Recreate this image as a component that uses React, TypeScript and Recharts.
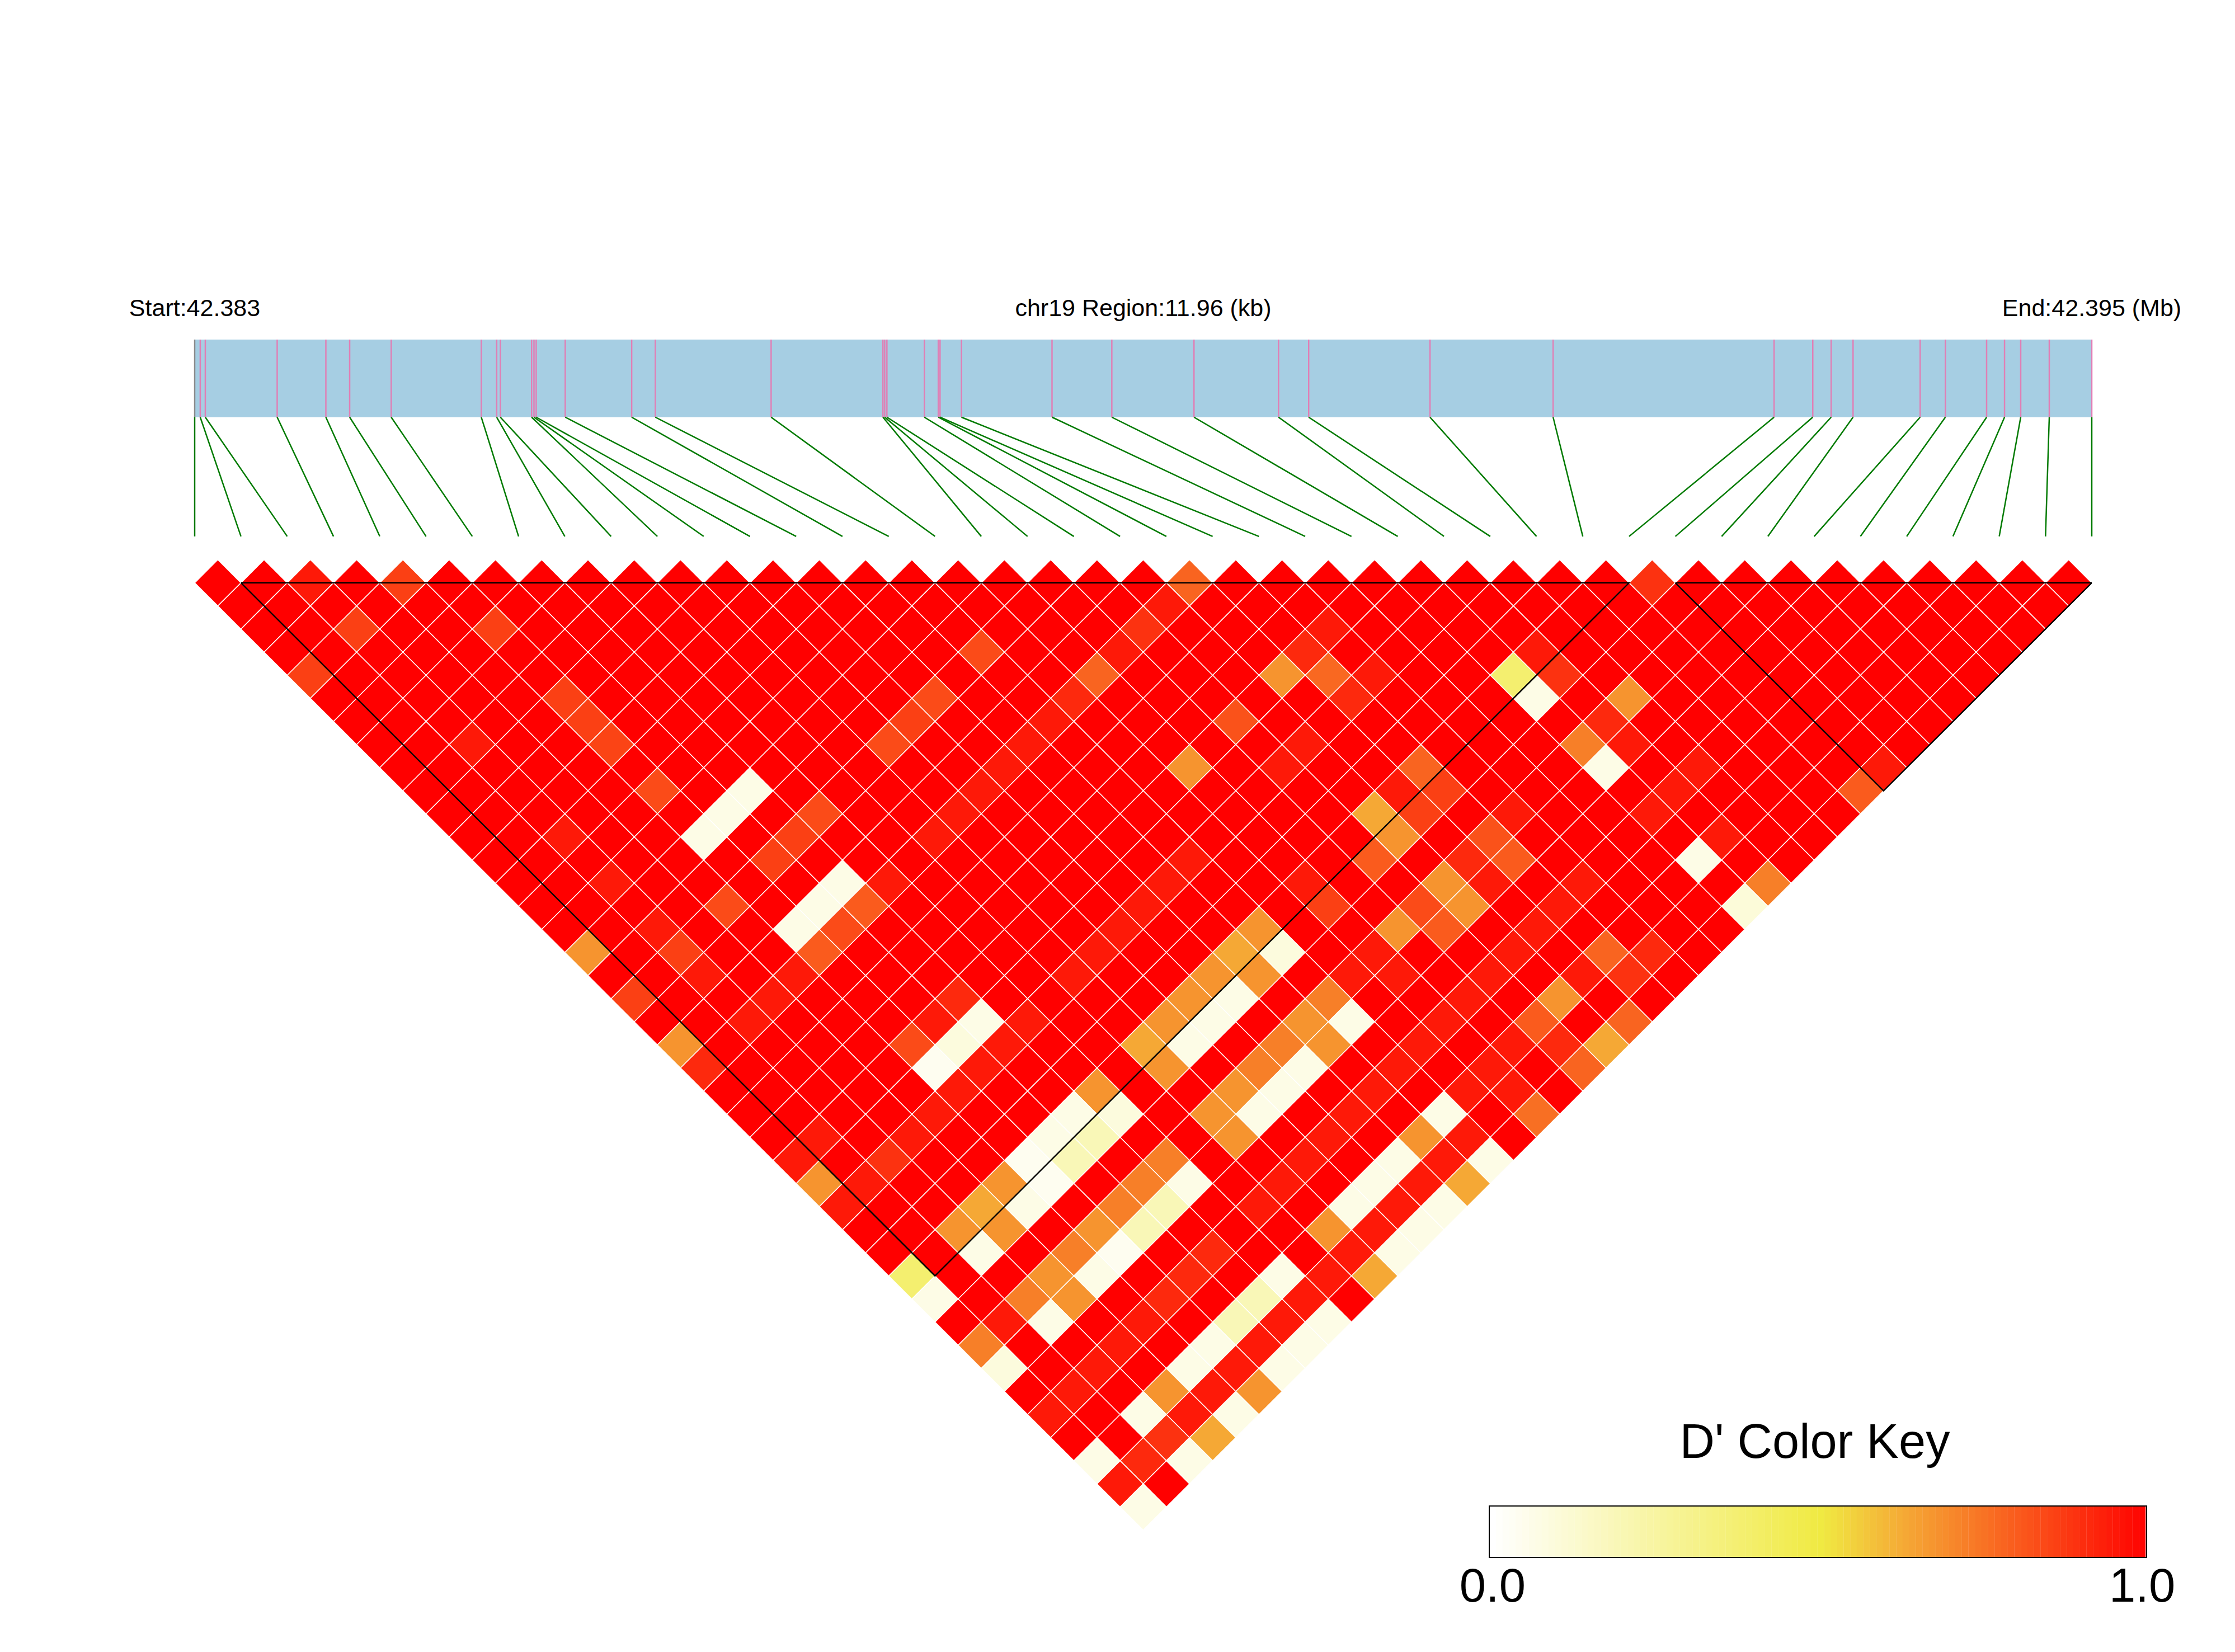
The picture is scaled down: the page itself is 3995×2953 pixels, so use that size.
import {
  Bar,
  BarChart,
  Cell,
  ComposedChart,
  ReferenceArea,
  ReferenceLine,
  Scatter,
  XAxis,
  YAxis,
} from "recharts";

const FONT = "Liberation Sans, Arial, sans-serif";
const REGION_KB = 11.96;
const SNP_GAPS = 41;

// SNP positions along the region, kb from the start
const snpKb = [
  0, 0.035, 0.067, 0.52, 0.827, 0.977, 1.239, 1.807, 1.904, 1.927, 2.124, 2.139, 2.153, 2.336,
  2.755, 2.904, 3.634, 4.339, 4.35, 4.364, 4.6, 4.688, 4.699, 4.834, 5.405, 5.782, 6.3, 6.833,
  7.023, 7.788, 8.564, 9.957, 10.201, 10.317, 10.455, 10.878, 11.037, 11.297, 11.41, 11.512,
  11.692, 11.96,
];

const regionTicks = [0, 5.98, 11.96];
const regionLabels = ["Start:42.383", "chr19 Region:11.96 (kb)", "End:42.395 (Mb)"];

// D' by distance: dPrimeRows[r][c] is the pair SNP c and SNP c + r + 1
const dPrimeRows = [
  [1,1,.945,1,.86,1,1,1,1,1, 1,1,1,1,1,1,1,1,1,1, 1,.78,1,1,1,1,1,1,1,1, 1,.89,1,1,1,1,1,1,1,1, 1],
  [1,1,1,1,1,1,1,1,1,1, 1,1,1,1,1,1,1,1,1,1, .945,1,1,1,1,1,1,1,1,1, 1,1,1,1,1,1,1,1,1,1],
  [1,1,.86,1,1,.86,1,1,1,1, 1,1,1,1,1,1,1,1,1,.89, 1,1,1,.945,1,1,1,1,1,1, 1,1,1,1,1,1,1,1,1],
  [1,1,1,1,1,1,1,1,1,1, 1,1,1,1,1,.835,1,1,.945,1, 1,1,.91,1,1,1,1,.945,1,1, 1,1,1,1,1,1,1,1],
  [.86,1,1,1,1,1,1,1,1,1, 1,1,1,1,1,1,1,.78,1,1, 1,.675,.77,.945,1,1,.38,.89,1,1, 1,1,1,1,1,1,1],
  [1,1,1,1,1,.86,1,1,1,1, 1,1,1,.835,1,1,.91,1,1,1, 1,1,.91,1,1,1,.066,1,.675,1, 1,1,1,1,1,1],
  [1,1,1,1,1,.86,1,1,1,1, 1,1,.86,1,1,.945,1,1,1,.82, 1,1,1,1,1,1,1,.91,1,1, 1,1,1,1,1],
  [1,1,.945,1,1,.85,1,1,1,1, 1,.835,1,1,.945,1,1,1,1,1, .945,1,1,1,1,1,.72,.945,1,1, 1,1,1,1],
  [1,1,1,1,1,1,1,1,1,1, 1,1,1,.945,1,1,1,.675,1,.945, 1,1,.78,1,1,1,.066,1,.945,1, 1,1,.945],
  [1,1,1,1,1,.835,1,.066,1,1, 1,1,.945,1,1,1,1,1,1,1, 1,.945,.86,1,1,1,1,.945,1,1, 1,.8],
  [1,1,1,1,1,1,.066,1,.835,1, 1,.945,1,1,1,1,1,1,1,1, .63,.86,1,.945,1,1,.945,1,1,1, 1],
  [1,1,.945,1,1,.066,1,.86,1,1, .945,1,1,1,1,1,1,1,1,1, .675,1,.82,1,1,1,1,.945,1,1],
  [1,1,1,1,1,1,.86,1,1,1, 1,1,1,1,1,.945,1,1,1,.8, 1,.91,.8,1,1,1,.066,1,1],
  [1,1,.945,1,1,1,1,.066,.945,1, 1,1,1,1,.945,1,1,.945,1,1, .675,.945,1,.945,1,1,1,.72],
  [1,1,1,1,.835,1,.066,.8,1,1, 1,1,1,.945,1,1,1,.86,1,.835, .675,1,.945,1,1,1,.1],
  [1,1,.945,1,1,.066,.835,1,1,1, 1,1,.945,1,1,.675,1,1,.675,.8, 1,.945,1,1,1,1],
  [.675,1,.86,1,1,.8,1,1,1,1, 1,.945,1,1,.63,.09,1,.945,1,1, .945,1,.78,.91,1],
  [1,1,.945,1,.945,1,1,1,1,1, .945,1,1,.675,.675,1,.945,.945,1,.945, 1,.945,.89,1],
  [.86,1,1,.945,1,1,1,.91,1,1, 1,1,.675,.066,1,.72,1,1,.945,1, .675,1,1],
  [1,1,.945,1,1,1,.945,.066,.945,1, 1,.675,.066,1,.675,.066,1,.945,1,.8, 1,.78],
  [.675,1,1,1,1,.835,.09,.945,1,1, .63,.066,1,.72,.675,1,.945,1,.945,.91, .63],
  [.91,1,1,1,1,.04,.945,1,1,1, .675,1,.72,.066,1,.945,1,.945,1,.78],
  [1,1,1,1,1,.945,1,1,.675,1, 1,.675,.066,1,.945,1,.945,.945,1],
  [1,1,1,1,.945,1,1,.066,.09,1, .675,.066,1,.945,1,.066,1,.755],
  [1,.945,1,.945,1,1,.066,.19,1,1, .675,1,.945,1,.675,.945,1],
  [.945,1,.89,1,1,.04,.19,1,.72,1, 1,.945,1,.066,.945,.066],
  [.675,.945,1,1,.675,.04,1,.72,.066,1, .945,1,.066,.945,.63],
  [.945,1,1,.63,.066,1,.72,.19,1,.945, 1,.066,.945,.066],
  [1,1,.675,.675,1,.675,.19,1,1,1, .675,.945,.066],
  [1,1,.066,1,.72,.04,1,.91,1,1, .945,.066],
  [.38,1,1,.675,.066,1,.91,1,.066,.945, .63],
  [.066,1,.72,.675,1,.91,1,.19,.945,1],
  [1,.945,.066,1,.945,1,.19,.945,.066],
  [.72,1,1,.945,1,.066,.945,.066],
  [.09,1,.945,1,.066,.945,.066],
  [1,.945,1,.675,.945,.675],
  [.945,1,.066,.945,.066],
  [1,1,.89,.63],
  [.066,.91,.066],
  [.945,1],
  [.066],
];

// haplotype blocks, first and last SNP index
const ldBlocks = [
  [1, 31],
  [32, 41],
];

const keyLevels = [
  0, .01, .02, .03, .04, .05, .06, .07, .08, .09, .1, .11, .12, .13, .14, .15, .16, .17, .18, .19,
  .2, .21, .22, .23, .24, .25, .26, .27, .28, .29, .3, .31, .32, .33, .34, .35, .36, .37, .38, .39,
  .4, .41, .42, .43, .44, .45, .46, .47, .48, .49, .5, .51, .52, .53, .54, .55, .56, .57, .58, .59,
  .6, .61, .62, .63, .64, .65, .66, .67, .68, .69, .7, .71, .72, .73, .74, .75, .76, .77, .78, .79,
  .8, .81, .82, .83, .84, .85, .86, .87, .88, .89, .9, .91, .92, .93, .94, .95, .96, .97, .98, .99,
];

const colorStops: [number, number[]][] = [
  [0, [255, 255, 255]],
  [0.5, [240, 234, 66]],
  [0.63, [245, 168, 53]],
  [1, [255, 0, 0]],
];

function dColor(d: number) {
  for (let i = 1; i < colorStops.length; i++) {
    const [hi, hiRgb] = colorStops[i];
    if (d <= hi) {
      const [lo, loRgb] = colorStops[i - 1];
      const t = (d - lo) / (hi - lo);
      const rgb = loRgb.map((v, k) => Math.round(v + (hiRgb[k] - v) * t));
      return `rgb(${rgb.join(",")})`;
    }
  }
  return "rgb(255,0,0)";
}

const WIDTH = 3995;
const HEIGHT = 2953;
const margin = { top: 606, right: 256, bottom: 218, left: 348 };
const plotWidth = WIDTH - margin.left - margin.right;

// y axis runs in heatmap rows, row 0 on the top diamonds
const BAR_TOP = -10.53;
const BAR_BOTTOM = -7.17;
const LEADER_END = -2.01;
const ROW_MAX = 41;

const cells = dPrimeRows.flatMap((row, r) =>
  row.map((d, c) => ({ x: c + (r + 1) / 2, y: r, d }))
);
const snpPoints = snpKb.map((kb) => ({ kb, y: BAR_TOP }));

const halfW = plotWidth / SNP_GAPS / 2;
const halfH = 41.3;

function Diamond(props: any) {
  const { cx, cy, payload } = props;
  const pts = `${cx - halfW},${cy} ${cx},${cy - halfH} ${cx + halfW},${cy} ${cx},${cy + halfH}`;
  return <polygon points={pts} fill={dColor(payload.d)} stroke="#ffffff" strokeWidth={1.5} />;
}

const NoMark = () => null;

const kbToIndex = (kb: number) => (kb / REGION_KB) * SNP_GAPS;

function ColorKey() {
  const data = keyLevels.map((level) => ({ level, v: 1 }));
  return (
    <>
      <BarChart
        width={1300}
        height={400}
        data={data}
        barCategoryGap={0}
        margin={{ top: 192, right: 65, bottom: 17, left: 62 }}
        style={{ position: "absolute", left: 2600, top: 2500 }}
      >
        <XAxis
          dataKey="level"
          height={100}
          ticks={[0, 0.99]}
          interval={0}
          axisLine={false}
          tickLine={false}
          tickMargin={14}
          tickFormatter={(v) => (v < 0.5 ? "0.0" : "1.0")}
          tick={{ fill: "#000", fontSize: 85, fontFamily: FONT }}
        />
        <YAxis hide domain={[0, 1]} />
        <Bar dataKey="v" isAnimationActive={false}>
          {data.map((e) => (
            <Cell key={e.level} fill={dColor(e.level)} />
          ))}
        </Bar>
        <text x={644} y={106} textAnchor="middle" fontSize={86.5} fontFamily={FONT} fill="#000">
          D' Color Key
        </text>
      </BarChart>
      {/* frame round the key, sits over the bars */}
      <div
        style={{
          position: "absolute",
          left: 2661,
          top: 2691,
          width: 1173,
          height: 90,
          border: "2.5px solid #000",
        }}
      />
    </>
  );
}

export default function App() {
  return (
    <div style={{ position: "absolute", left: 0, top: 0, width: WIDTH, height: HEIGHT, background: "#fff" }}>
      <ComposedChart width={WIDTH} height={HEIGHT} margin={margin}>
        <XAxis xAxisId="snp" type="number" dataKey="x" domain={[0, SNP_GAPS]} allowDataOverflow hide />
        <XAxis
          xAxisId="kb"
          orientation="top"
          type="number"
          dataKey="kb"
          domain={[0, REGION_KB]}
          allowDataOverflow
          height={1}
          ticks={regionTicks}
          interval={0}
          axisLine={false}
          tickLine={false}
          tickMargin={36}
          tickFormatter={(_v, i) => regionLabels[i]}
          tick={{ fill: "#000", fontSize: 43, fontFamily: FONT }}
        />
        <YAxis type="number" dataKey="y" domain={[BAR_TOP, ROW_MAX]} reversed allowDataOverflow hide />

        <ReferenceArea
          xAxisId="snp"
          x1={0}
          x2={SNP_GAPS}
          y1={BAR_TOP}
          y2={BAR_BOTTOM}
          fill="#a6cee3"
          fillOpacity={1}
          stroke="none"
          ifOverflow="visible"
        />
        {snpKb.map((kb, i) => (
          <ReferenceLine
            key={`mark-${i}`}
            xAxisId="snp"
            segment={[
              { x: kbToIndex(kb), y: BAR_TOP },
              { x: kbToIndex(kb), y: BAR_BOTTOM },
            ]}
            stroke={i === 0 ? "#8c8c8c" : "#e07fb5"}
            strokeWidth={2.5}
            ifOverflow="visible"
          />
        ))}
        {snpKb.map((kb, i) => (
          <ReferenceLine
            key={`leader-${i}`}
            xAxisId="snp"
            segment={[
              { x: kbToIndex(kb), y: BAR_BOTTOM },
              { x: i, y: LEADER_END },
            ]}
            stroke="#007a00"
            strokeWidth={2.5}
            ifOverflow="visible"
          />
        ))}

        <Scatter xAxisId="kb" data={snpPoints} shape={NoMark} isAnimationActive={false} />
        <Scatter xAxisId="snp" data={cells} shape={Diamond} isAnimationActive={false} />

        {ldBlocks.map(([a, b]) => (
          <Scatter
            key={`block-${a}`}
            xAxisId="snp"
            data={[
              { x: a, y: 0 },
              { x: b, y: 0 },
              { x: (a + b) / 2, y: b - a },
              { x: a, y: 0 },
            ]}
            line={{ stroke: "#000", strokeWidth: 2.5 }}
            shape={NoMark}
            isAnimationActive={false}
          />
        ))}
      </ComposedChart>
      <ColorKey />
    </div>
  );
}
